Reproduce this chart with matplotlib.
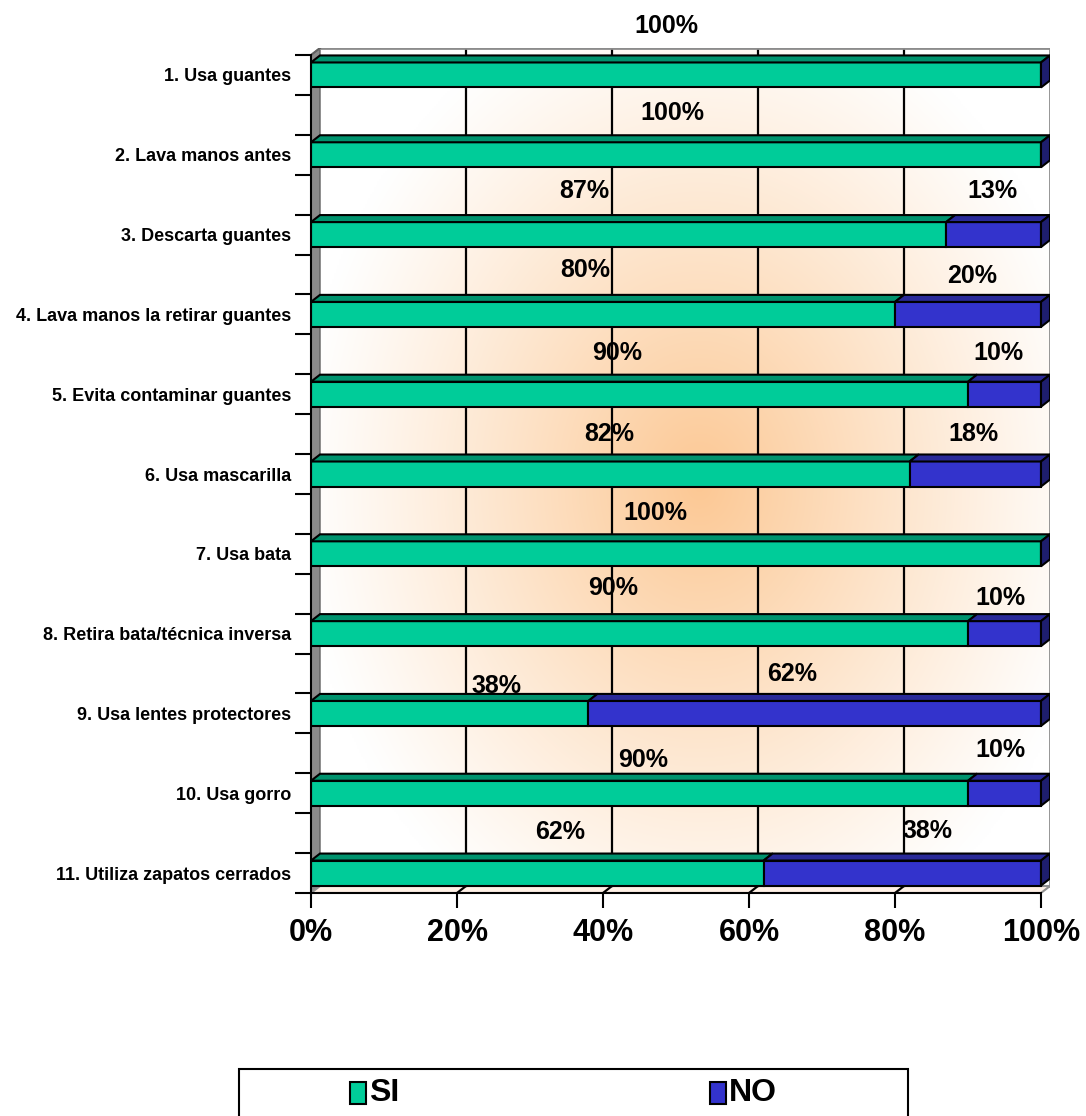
import numpy as np
import matplotlib.pyplot as plt
from matplotlib.patches import Polygon, Rectangle

plt.rcParams['font.family'] = ['Liberation Sans', 'DejaVu Sans']
plt.rcParams['font.weight'] = 'bold'

# datos
categorias = ["1. Usa guantes", "2. Lava manos antes", "3. Descarta guantes",
              "4. Lava manos la retirar guantes", "5. Evita contaminar guantes",
              "6. Usa mascarilla", "7. Usa bata", "8. Retira bata/técnica inversa",
              "9. Usa lentes protectores", "10. Usa gorro", "11. Utiliza zapatos cerrados"]
si = [100, 100, 87, 80, 90, 82, 100, 90, 38, 90, 62]
no = [0, 0, 13, 20, 10, 18, 0, 10, 62, 10, 38]
ticks_x = [0, 20, 40, 60, 80, 100]
etiquetas_x = ['0%', '20%', '40%', '60%', '80%', '100%']

# desplazamiento de las etiquetas (pixeles) respecto al centro de cada tramo
dx_si = [-10, -4, -44, -18, -22, -1, -21, -26, 47, 4, 23]
dy_si = [-49, -42, -44, -44, -41, -40, -41, -46, -27, -33, -41]
dx_no = [0, 0, -1, 4, -6, -2, 0, -4, -23, -4, 25]
dy_no = [0, 0, -44, -38, -41, -40, 0, -36, -39, -43, -42]

verde = '#00CC99'
verde_top = '#00936E'
azul = '#3333CC'
azul_top = '#2A2A99'
azul_lado = '#1E1E6E'

W, H = 1086, 1116
fig = plt.figure(figsize=(W / 100, H / 100), dpi=100)

# escala: pixeles por unidad
px_x = 7.3
px_y = 39.9
# profundidad del efecto 3D (en unidades de datos)
dx = 9 / px_x
dy = -7 / px_y

ax = fig.add_axes([311 / W, 1 - 893 / H, (1050 - 311) / W, (893 - 48) / H])

# pared del fondo con degradado
u = np.linspace(0, 1, 400)
v = np.linspace(0, 1, 400)
U, V = np.meshgrid(u, v)
t = np.sqrt(((U - 0.52) / 0.55) ** 2 + ((V - 0.52) / 0.6) ** 2)
k = np.clip(1 - t, 0, 1) ** 1.1
blanco = np.array([1.0, 1.0, 1.0])
naranja = np.array([252, 200, 148]) / 255
img = blanco + (naranja - blanco) * k[..., None]
ax.imshow(img, extent=[dx, 100 + dx, 20.5 + dy, -0.5 + dy], aspect='auto',
          zorder=0, interpolation='bilinear')

ax.set_xlim(0, 100 + dx)
ax.set_ylim(20.5, -0.5 + dy)

# pared izquierda y piso
ax.add_patch(Polygon([(0, -0.5), (dx, -0.5 + dy), (dx, 20.5 + dy), (0, 20.5)],
                     closed=True, fc='#8A8A8A', ec='#606060', lw=1, zorder=1))
ax.add_patch(Polygon([(0, 20.5), (100, 20.5), (100 + dx, 20.5 + dy), (dx, 20.5 + dy)],
                     closed=True, fc='#FFF1E6', ec='#909090', lw=1.5, zorder=1))

# lineas de division
for x in ticks_x[1:-1]:
    ax.plot([x + dx, x + dx], [-0.5 + dy, 20.5 + dy], color='k', lw=1.6, zorder=1)
    ax.plot([x, x + dx], [20.5, 20.5 + dy], color='k', lw=1.6, zorder=1)
ax.plot([100 + dx, 100 + dx], [-0.5 + dy, 20.5 + dy], color='#8C8C8C', lw=2, zorder=1)
ax.plot([dx, 100 + dx], [-0.5 + dy, -0.5 + dy], color='#8C8C8C', lw=2, zorder=1)
ax.plot([0, dx], [-0.5, -0.5 + dy], color='#606060', lw=1.5, zorder=1)

# barras
filas = np.arange(len(categorias)) * 2
h = 25 / px_y
izq_no = np.array(si)
ax.barh(filas, si, height=h, color=verde, edgecolor='k', lw=1.5, zorder=3)
ax.barh(filas, no, left=izq_no, height=h, color=azul, edgecolor='k', lw=1.5, zorder=3)

for i, (r, s, n) in enumerate(zip(filas, si, no)):
    y0 = r - h / 2
    ax.add_patch(Polygon([(0, y0), (s, y0), (s + dx, y0 + dy), (dx, y0 + dy)],
                         closed=True, fc=verde_top, ec='k', lw=1.5, zorder=3))
    if n > 0:
        ax.add_patch(Polygon([(s, y0), (s + n, y0), (s + n + dx, y0 + dy), (s + dx, y0 + dy)],
                             closed=True, fc=azul_top, ec='k', lw=1.5, zorder=3))
    ax.add_patch(Polygon([(100, y0), (100 + dx, y0 + dy), (100 + dx, y0 + h + dy), (100, y0 + h)],
                         closed=True, fc=azul_lado, ec='k', lw=1.5, zorder=3))
    # etiquetas de porcentaje
    ax.text(s / 2 + dx_si[i] / px_x, r + dy_si[i] / px_y, f'{s}%',
            ha='center', va='center', fontsize=18, zorder=5)
    if n > 0:
        ax.text(s + n / 2 + dx_no[i] / px_x, r + dy_no[i] / px_y, f'{n}%',
                ha='center', va='center', fontsize=18, zorder=5)

# ejes
ax.set_xticks(ticks_x)
ax.set_xticklabels(etiquetas_x, fontsize=22)
ax.set_yticks(np.arange(-0.5, 21, 1))
ax.set_yticklabels([])
ax.set_yticks(filas, minor=True)
ax.set_yticklabels(categorias, minor=True, fontsize=13)
ax.tick_params(axis='y', which='major', length=11.5, width=1.5, direction='out')
ax.tick_params(axis='y', which='minor', length=0, pad=14)
ax.tick_params(axis='x', length=11, width=1.5, direction='out', pad=7)
for lado in ['top', 'right']:
    ax.spines[lado].set_visible(False)
ax.spines['left'].set_bounds(-0.5, 20.5)
ax.spines['bottom'].set_bounds(0, 100)
ax.spines['left'].set_linewidth(1.5)
ax.spines['bottom'].set_linewidth(1.5)
ax.spines['left'].set_zorder(4)

# leyenda
fig.add_artist(Rectangle((239 / W, -0.01), (908 - 239) / W, (1116 - 1069) / H + 0.01,
                         transform=fig.transFigure, fill=False, ec='k', lw=1.5))
for x0, color, nombre in [(350, verde, 'SI'), (710, azul, 'NO')]:
    fig.add_artist(Rectangle((x0 / W, 1 - 1104 / H), 16 / W, 22 / H,
                             transform=fig.transFigure, fc=color, ec='k', lw=1.5))
    fig.text((x0 + 19) / W, 1 - 1093 / H, nombre, fontsize=23, va='center', ha='left')

fig.savefig('out.png', dpi=100)
